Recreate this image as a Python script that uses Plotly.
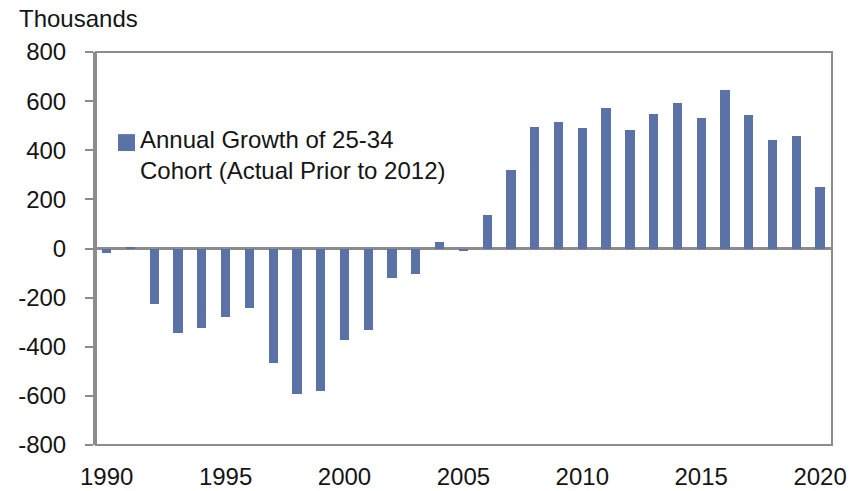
import plotly.graph_objects as go

# Annual growth of the 25-34 age cohort, thousands of persons
years = list(range(1990, 2021))
growth = [
    -20, 8, -227, -346, -324, -279, -244, -466, -591, -581,
    -374, -331, -121, -103, 26, -10, 137, 319, 493, 514,
    492, 572, 484, 546, 594, 532, 646, 545, 443, 460, 249,
]

y_ticks = [-800, -600, -400, -200, 0, 200, 400, 600, 800]
y_tick_labels = ["-800", "-600", "-400", "-200", "0", "200", "400", "600", "800"]
x_ticks = [1990, 1995, 2000, 2005, 2010, 2015, 2020]
x_tick_labels = ["1990", "1995", "2000", "2005", "2010", "2015", "2020"]

series_name = "Annual Growth of 25-34<br>Cohort (Actual Prior to 2012)"

BAR = "#5B72A7"
AXIS = "#8C8C8C"
TEXT = "#151515"
FONT = "Liberation Sans, Arial, sans-serif"
FS = 24

fig = go.Figure(
    go.Bar(
        x=years,
        y=growth,
        width=0.39,
        marker=dict(color=BAR, line=dict(width=0)),
        name=series_name,
        showlegend=False,
    )
)

fig.update_layout(
    width=864,
    height=491,
    margin=dict(l=96, r=32, t=52, b=46, autoexpand=False),
    paper_bgcolor="white",
    plot_bgcolor="white",
    font=dict(family=FONT, size=FS, color=TEXT),
    bargap=0,
)

fig.update_xaxes(
    range=[1989.55, 2020.5],
    tickvals=x_ticks,
    ticktext=x_tick_labels,
    showgrid=False,
    zeroline=False,
    showline=False,
    ticks="",
    automargin=False,
    ticklabelstandoff=15,
    tickfont=dict(family=FONT, size=FS, color=TEXT),
)

fig.update_yaxes(
    range=[-800, 800],
    tickvals=y_ticks,
    ticktext=y_tick_labels,
    showgrid=False,
    zeroline=True,
    zerolinecolor=AXIS,
    zerolinewidth=2.5,
    showline=True,
    linecolor=AXIS,
    linewidth=3,
    ticks="outside",
    ticklen=8,
    tickwidth=2,
    tickcolor=AXIS,
    automargin=False,
    ticklabelstandoff=14,
    tickfont=dict(family=FONT, size=FS, color=TEXT),
)

# plot frame
fig.add_shape(
    type="rect", xref="paper", yref="paper", x0=0, x1=1, y0=0, y1=1,
    line=dict(color=AXIS, width=2), fillcolor="rgba(0,0,0,0)", layer="above",
)

# legend swatch and label
fig.add_shape(
    type="rect", xref="paper", yref="paper",
    x0=0.0299, x1=0.053, y0=0.748, y1=0.791,
    line=dict(width=0), fillcolor=BAR,
)
fig.add_annotation(
    xref="paper", yref="paper", x=0.0571, y=0.818,
    xanchor="left", yanchor="top", align="left",
    text=series_name, showarrow=False,
    font=dict(family=FONT, size=FS, color=TEXT),
)

# unit label above the value axis
fig.add_annotation(
    xref="paper", yref="paper", x=-0.108, y=1.0865,
    xanchor="left", yanchor="middle",
    text="Thousands", showarrow=False,
    font=dict(family=FONT, size=FS, color=TEXT),
)

fig.write_html("out.html")
